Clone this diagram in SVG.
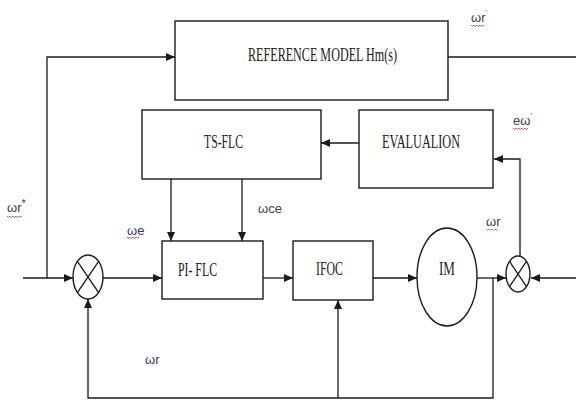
<svg xmlns="http://www.w3.org/2000/svg" width="576" height="400" viewBox="0 0 576 400">
<style>
.box{fill:#fff;stroke:#1a1a1a;stroke-width:1.4}
.ln{fill:none;stroke:#1a1a1a;stroke-width:1.3}
.t{font-family:"Liberation Serif",serif;font-size:19px;fill:#1a1a1a}
.w{font-family:"Liberation Sans","DejaVu Sans",sans-serif;font-size:13px;fill:#3a3a5a}
.red{fill:none;stroke:#e03a3a;stroke-width:0.8}
.grn{fill:none;stroke:#3aa03a;stroke-width:0.8}
</style>
<defs>
<marker id="a" markerUnits="userSpaceOnUse" markerWidth="10" markerHeight="9" refX="9" refY="4" orient="auto">
<path d="M0,0 L9,4 L0,8 z" fill="#1a1a1a"/>
</marker>
</defs>
<g id="connectors">
<path class="ln" d="M23,278 H73" marker-end="url(#a)"/>
<path class="ln" d="M47,278 V57 H175" marker-end="url(#a)"/>
<path class="ln" d="M448,57 H576"/>
<path class="ln" d="M103,278 H162" marker-end="url(#a)"/>
<path class="ln" d="M171,179 V241" marker-end="url(#a)"/>
<path class="ln" d="M242,179 V241" marker-end="url(#a)"/>
<path class="ln" d="M263,278 H293" marker-end="url(#a)"/>
<path class="ln" d="M373,278 H417" marker-end="url(#a)"/>
<path class="ln" d="M477,278 H506" marker-end="url(#a)"/>
<path class="ln" d="M576,278 H531" marker-end="url(#a)"/>
<path class="ln" d="M520,256 V159 H494" marker-end="url(#a)"/>
<path class="ln" d="M359,143 H321" marker-end="url(#a)"/>
<path class="ln" d="M493,278 V398 H88 V299" marker-end="url(#a)"/>
<path class="ln" d="M338,398 V300" marker-end="url(#a)"/>
</g>
<g id="refmodel">
<rect class="box" x="175" y="21" width="273" height="79"/>
<text class="t" x="248" y="61" textLength="149" lengthAdjust="spacingAndGlyphs">REFERENCE MODEL Hm(s)</text>
</g>
<g id="tsflc">
<rect class="box" x="142" y="110" width="179" height="69"/>
<text class="t" x="204" y="148" textLength="39" lengthAdjust="spacingAndGlyphs">TS-FLC</text>
</g>
<g id="evaluation">
<rect class="box" x="359" y="110" width="134" height="78"/>
<text class="t" x="382" y="148" textLength="78" lengthAdjust="spacingAndGlyphs">EVALUALION</text>
</g>
<g id="sum1">
<ellipse class="box" cx="88" cy="277" rx="15" ry="22"/>
<path class="ln" d="M77.4,261.4 L98.6,292.6 M98.6,261.4 L77.4,292.6" stroke-width="1"/>
</g>
<g id="piflc">
<rect class="box" x="162" y="241" width="101" height="58"/>
<text class="t" x="178" y="276" textLength="39" lengthAdjust="spacingAndGlyphs">PI- FLC</text>
</g>
<g id="ifoc">
<rect class="box" x="293" y="241" width="80" height="59"/>
<text class="t" x="316" y="275" textLength="27" lengthAdjust="spacingAndGlyphs">IFOC</text>
</g>
<g id="im">
<ellipse class="box" cx="447" cy="277" rx="30" ry="49"/>
<text class="t" x="439" y="275" textLength="16" lengthAdjust="spacingAndGlyphs">IM</text>
</g>
<g id="sum2">
<ellipse class="box" cx="518" cy="274" rx="12" ry="18"/>
<path class="ln" d="M509.5,261.3 L526.5,286.7 M526.5,261.3 L509.5,286.7" stroke-width="1"/>
</g>
<g id="labels">
<text class="w" x="471" y="22">ωr<tspan font-size="8" dy="-7">'</tspan></text>
<path class="red" d="M471,25 l1.5,1.5 l1.5,-1.5 l1.5,1.5 l1.5,-1.5 l1.5,1.5 l1.5,-1.5 l1.5,1.5 l1.5,-1.5 l1.5,1.5"/>
<text class="w" x="7" y="212">ωr<tspan font-size="11" dy="-5">*</tspan></text>
<path class="red" d="M7,216 l1.5,1.5 l1.5,-1.5 l1.5,1.5 l1.5,-1.5 l1.5,1.5 l1.5,-1.5 l1.5,1.5 l1.5,-1.5 l1.5,1.5 l1.5,-1.5"/>
<text class="w" x="258" y="213" font-size="12">ωce</text>
<text class="w" x="127" y="235" font-size="12">ωe</text>
<path class="red" d="M127,237 l1.5,1.5 l1.5,-1.5 l1.5,1.5 l1.5,-1.5 l1.5,1.5 l1.5,-1.5 l1.5,1.5 l1.5,-1.5"/>
<text class="w" x="513" y="125">eω<tspan font-size="8" dy="-7">'</tspan></text>
<path class="red" d="M513,128 l1.5,1.5 l1.5,-1.5 l1.5,1.5 l1.5,-1.5 l1.5,1.5 l1.5,-1.5 l1.5,1.5 l1.5,-1.5 l1.5,1.5 l1.5,-1.5"/>
<text class="w" x="486" y="226">ωr</text>
<path class="grn" d="M486,229 l1.5,1.5 l1.5,-1.5 l1.5,1.5 l1.5,-1.5 l1.5,1.5 l1.5,-1.5 l1.5,1.5 l1.5,-1.5"/>
<text class="w" x="145" y="364">ωr</text>
</g>
</svg>
